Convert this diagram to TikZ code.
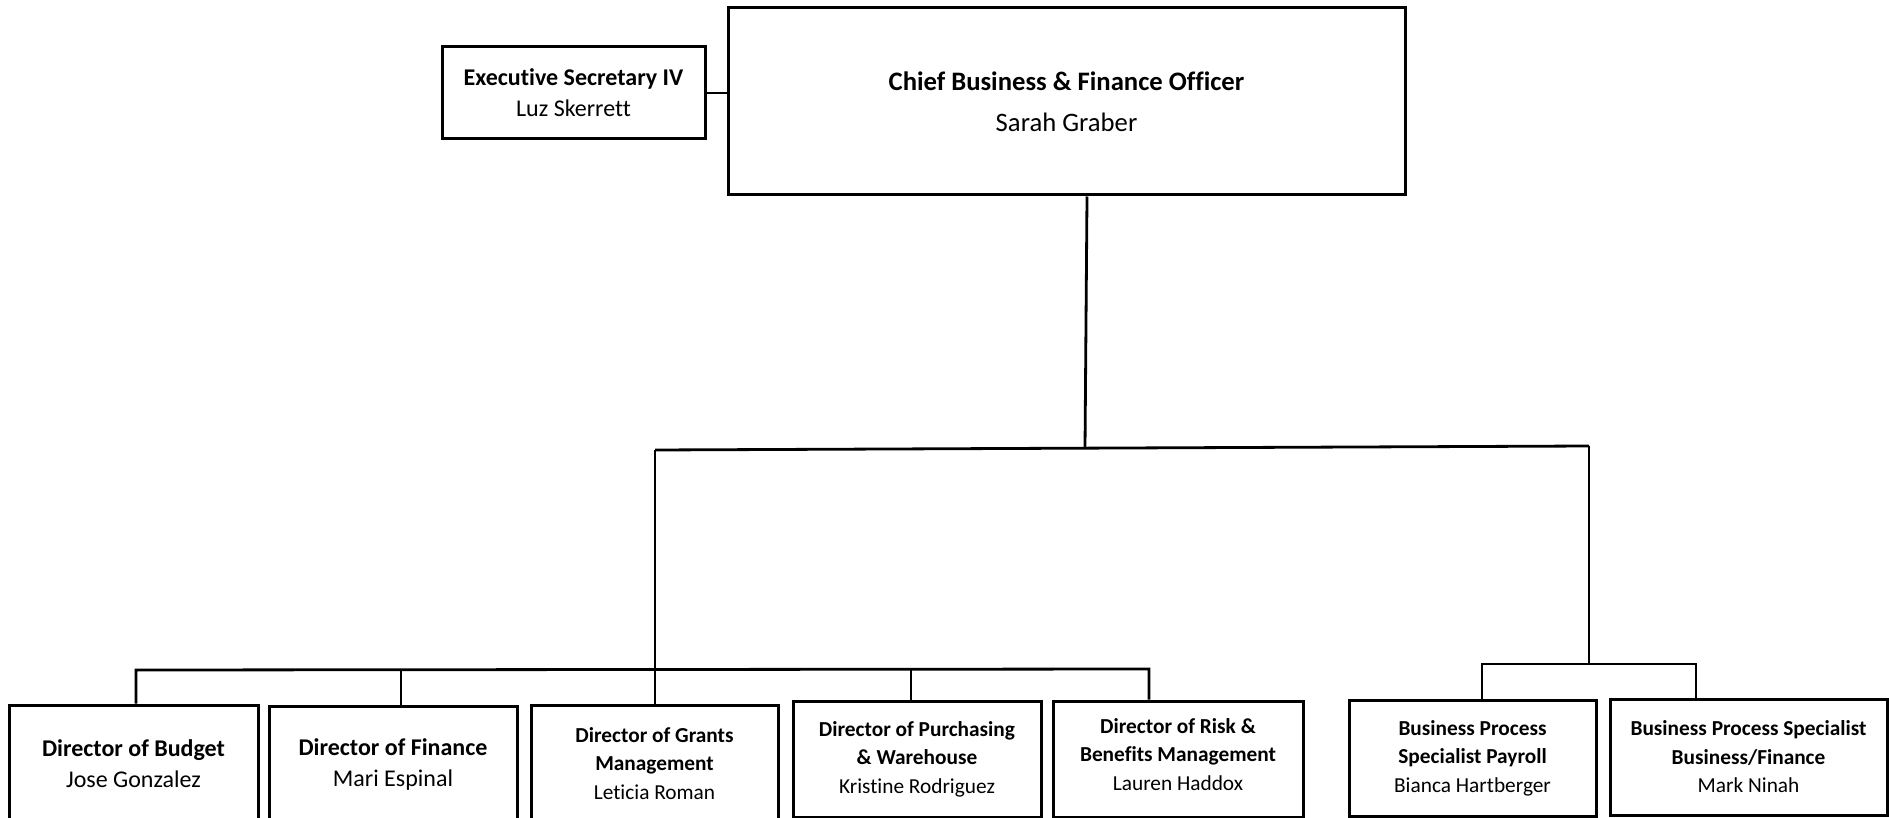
\documentclass[tikz,border=0pt]{standalone}
\usepackage{fontspec}
\setmainfont{Carlito}[Ligatures={NoCommon}]
\begin{document}
\begin{tikzpicture}[x=1pt,y=-1pt,
  box/.style={draw, rectangle, line width=3pt, align=center, inner sep=0pt},
  big/.style={font=\fontsize{26.67}{41}\selectfont},
  mid/.style={font=\fontsize{24}{31}\selectfont},
  small/.style={font=\fontsize{21.33}{28.5}\selectfont},
  conn/.style={line width=2.8pt}]
\useasboundingbox (0,0) rectangle (1889,818);
\clip (0,0) rectangle (1889,818);
\fill[white] (0,0) rectangle (1889,818);

\node[box, mid, minimum width=263pt, minimum height=92pt] (exec) at (573.5,93)
  {\textbf{Executive Secretary IV}\\Luz Skerrett};
\node[box, big, minimum width=677pt, minimum height=187pt] (chief) at (1066.5,101.5)
  {\textbf{Chief Business \& Finance Officer}\\Sarah Graber};

\node[box, mid, minimum width=249pt, minimum height=117pt] (budget) at (133.5,763.5)
  {\textbf{Director of Budget}\\Jose Gonzalez};
\node[box, mid, minimum width=248pt, minimum height=118pt] (finance) at (393,765)
  {\textbf{Director of Finance}\\Mari Espinal};
\node[box, small, minimum width=247pt, minimum height=117pt] (grants) at (654.5,763.5)
  {\textbf{Director of Grants}\\\textbf{Management}\\Leticia Roman};
\node[box, small, minimum width=248pt, minimum height=116pt] (purch) at (917,759)
  {\textbf{Director of Purchasing}\\\textbf{\& Warehouse}\\Kristine Rodriguez};
\node[box, small, minimum width=250pt, minimum height=116pt] (risk) at (1178,759)
  {\textbf{Director of Risk \&}\\\textbf{Benefits Management}\\Lauren Haddox\\[-19pt]\mbox{}};
\node[box, small, minimum width=247pt, minimum height=116pt] (payroll) at (1472.5,758)
  {\textbf{Business Process}\\\textbf{Specialist Payroll}\\Bianca Hartberger};
\node[box, small, minimum width=277pt, minimum height=116pt] (bf) at (1748.5,757)
  {\textbf{Business Process Specialist}\\\textbf{Business/Finance}\\Mark Ninah};

\coordinate (barL) at (655,450);
\coordinate (barM) at (1085,448);
\coordinate (barR) at (1589,446);
\coordinate (lowL) at (136,670);
\coordinate (lowR) at (1149,669);
\coordinate (finJ) at (401,670);
\coordinate (purJ) at (911,669);
\coordinate (rJ) at (1589,664);
\coordinate (sL) at (1482,664);
\coordinate (sR) at (1696,664);

\draw[conn] (exec.east) -- (exec.east -| chief.west);
\draw[conn] (1087,0 |- chief.south) -- (barM);
\draw[conn] (barL) -- (barR);
\draw[conn] (barL) -- (655,0 |- grants.north);
\draw[conn] (136,0 |- budget.north) -- (lowL) -- (lowR) -- (1149,0 |- risk.north);
\draw[conn] (finJ) -- (401,0 |- finance.north);
\draw[conn] (purJ) -- (911,0 |- purch.north);
\draw[conn] (barR) -- (rJ);
\draw[conn] (1482,0 |- payroll.north) -- (sL) -- (sR) -- (1696,0 |- bf.north);
\end{tikzpicture}
\end{document}
